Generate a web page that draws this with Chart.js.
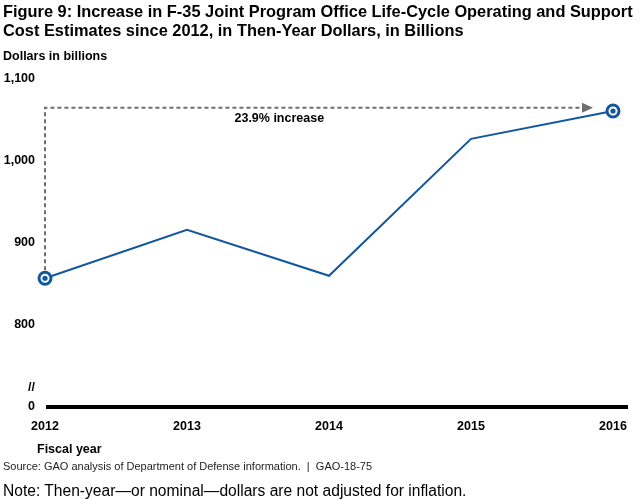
<!DOCTYPE html>
<html><head><meta charset="utf-8">
<script src="https://cdn.jsdelivr.net/npm/chart.js@4.4.0/dist/chart.umd.min.js"></script>
<style>
html,body{margin:0;padding:0;background:#fff;}
#wrap{position:relative;width:640px;height:500px;overflow:hidden;font-family:'Liberation Sans',Arial,sans-serif;color:#000;}
canvas{position:absolute;left:0;top:0;}
.t{position:absolute;white-space:nowrap;transform-origin:0 0;line-height:1;}
.ttl{font-weight:bold;font-size:17px;left:3px;}
#title1{top:3px;} #title2{top:22px;}
#ylab{font-weight:bold;font-size:12.5px;left:3px;top:50px;}
#xlab{font-weight:bold;font-size:12.5px;left:37px;top:443px;}
#src{font-size:11px;left:3px;top:461px;color:#222;}
#note{font-size:15.6px;left:3px;top:483px;}
</style></head>
<body><div id="wrap">
<canvas id="c" width="640" height="500"></canvas>
<div class="t ttl" id="title1">Figure 9: Increase in F-35 Joint Program Office Life-Cycle Operating and Support</div>
<div class="t ttl" id="title2">Cost Estimates since 2012, in Then-Year Dollars, in Billions</div>
<div class="t" id="ylab">Dollars in billions</div>
<div class="t" id="xlab">Fiscal year</div>
<div class="t" id="src">Source: GAO analysis of Department of Defense information.&nbsp; |&nbsp; GAO-18-75</div>
<div class="t" id="note">Note: Then-year—or nominal—dollars are not adjusted for inflation.</div>
</div>
<script>
// ---- data ----
const years = ['2012', '2013', '2014', '2015', '2016'];
const costEstimates = [857, 916, 860, 1027, 1061];
const yTicks = [700, 800, 900, 1000, 1100];          // 700 position is shown as "0" (broken axis)
const yTickLabels = ['0', '800', '900', '1,000', '1,100'];
const arrowLevel = 1065;
const breakLevel = 724;
const increaseLabel = '23.9% increase';
const breakMark = '//';

// condensed title fit
(function(){
  const t1 = document.getElementById('title1'), t2 = document.getElementById('title2');
  const s = 630 / t1.offsetWidth;
  t1.style.transform = 'scaleX(' + s + ')';
  t2.style.transform = 'scaleX(' + s + ')';
})();

const BLUE = '#12579c';
const GRAY = '#6e6e6e';
const FONT = "'Liberation Sans', Arial, sans-serif";
const last = costEstimates.length - 1;

const annot = {
  id: 'annot',
  beforeDatasetsDraw(chart) {
    const ctx = chart.ctx, xs = chart.scales.x, ys = chart.scales.y;
    const x0 = xs.getPixelForValue(0);
    const yA = ys.getPixelForValue(arrowLevel);
    const yP = ys.getPixelForValue(costEstimates[0]);
    const tipX = xs.getPixelForValue(last) - 20;
    ctx.save();
    ctx.strokeStyle = GRAY; ctx.lineWidth = 2; ctx.setLineDash([4, 3]);
    ctx.beginPath();
    ctx.moveTo(x0, yP - 8); ctx.lineTo(x0, yA); ctx.lineTo(tipX - 9, yA);
    ctx.stroke();
    ctx.setLineDash([]);
    ctx.fillStyle = GRAY;
    ctx.beginPath();
    ctx.moveTo(tipX, yA); ctx.lineTo(tipX - 11, yA - 5); ctx.lineTo(tipX - 11, yA + 5); ctx.closePath();
    ctx.fill();
    ctx.fillStyle = '#000';
    ctx.font = 'bold 12.5px ' + FONT;
    ctx.textAlign = 'center'; ctx.textBaseline = 'middle';
    ctx.fillText(increaseLabel, xs.getPixelForValue(1.65), yA + 11);
    ctx.restore();
  },
  afterDraw(chart) {
    const ctx = chart.ctx, xs = chart.scales.x, ys = chart.scales.y, ca = chart.chartArea;
    ctx.save();
    ctx.strokeStyle = '#000'; ctx.lineWidth = 4;
    const y0 = ys.getPixelForValue(yTicks[0]);
    ctx.beginPath(); ctx.moveTo(xs.getPixelForValue(0) + 1, y0); ctx.lineTo(ca.right + 15, y0); ctx.stroke();
    ctx.fillStyle = '#000';
    ctx.font = 'bold 12.5px ' + FONT;
    ctx.textAlign = 'right'; ctx.textBaseline = 'middle';
    ctx.fillText(breakMark, ca.left - 10, ys.getPixelForValue(breakLevel));
    ctx.restore();
  }
};

new Chart(document.getElementById('c'), {
  type: 'line',
  data: {
    labels: years,
    datasets: [{
      data: costEstimates, order: 0,
      borderColor: BLUE, borderWidth: 2, tension: 0,
      pointRadius: costEstimates.map((v, i) => (i === 0 || i === last) ? 6 : 0),
      pointBorderWidth: 3, pointBorderColor: BLUE, pointBackgroundColor: '#fff',
      pointHoverRadius: 6
    }, {
      data: costEstimates.map((v, i) => (i === 0 || i === last) ? v : null), order: -1,
      showLine: false, pointRadius: 2.6, pointBorderWidth: 0,
      pointBackgroundColor: BLUE, borderColor: BLUE
    }]
  },
  options: {
    responsive: false, animation: false,
    layout: { padding: { left: 0, top: 79, right: 27, bottom: 53 } },
    plugins: { legend: { display: false }, tooltip: { enabled: false } },
    scales: {
      x: {
        type: 'category', offset: false,
        grid: { display: false, drawTicks: false }, border: { display: false },
        ticks: { color: '#000', font: { family: FONT, size: 12.5, weight: 'bold' }, padding: 12, maxRotation: 0, autoSkip: false },
        afterFit: s => { s.height = 40; }
      },
      y: {
        min: yTicks[0], max: yTicks[yTicks.length - 1],
        grid: { display: false, drawTicks: false }, border: { display: false },
        afterBuildTicks: s => { s.ticks = yTicks.map(v => ({ value: v })); },
        ticks: {
          color: '#000', font: { family: FONT, size: 12.5, weight: 'bold' }, padding: 10,
          callback: v => yTickLabels[yTicks.indexOf(v)]
        },
        afterFit: s => { s.width = 45; }
      }
    }
  },
  plugins: [annot]
});
</script>
</body></html>
